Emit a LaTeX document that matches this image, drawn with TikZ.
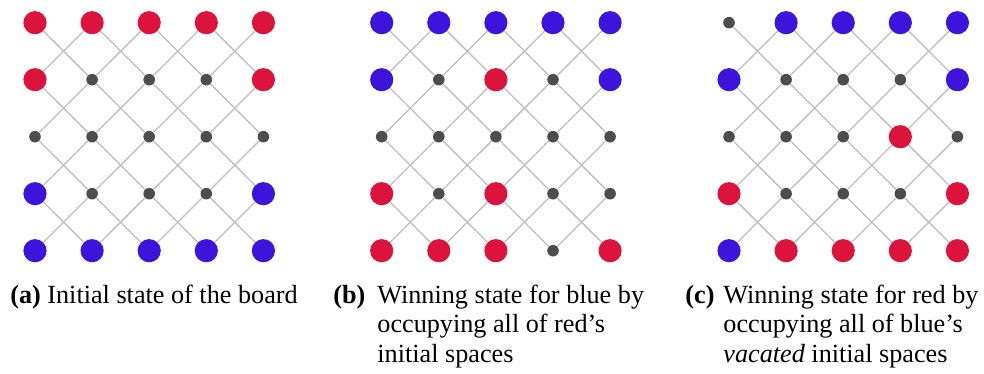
\documentclass[tikz,border=0pt]{standalone}
\usepackage{fontspec}
\setmainfont{Liberation Serif}
\usetikzlibrary{positioning}
\definecolor{BrdRed}{RGB}{220,20,60}
\definecolor{BrdBlue}{RGB}{60,20,220}
\definecolor{BrdDot}{RGB}{77,77,77}
\definecolor{BrdLine}{RGB}{190,190,190}
\tikzset{
  brd/r/.style={circle, fill=BrdRed, inner sep=0pt, minimum size=11.6pt},
  brd/b/.style={circle, fill=BrdBlue, inner sep=0pt, minimum size=11.6pt},
  brd/e/.style={circle, fill=BrdDot, inner sep=0pt, minimum size=5.8pt},
  brd/edge/.style={draw=BrdLine, line width=0.65pt},
  brd/tag/.style={font=\fontsize{13.1}{14.75}\selectfont\bfseries, inner sep=0pt, anchor=base west},
  brd/caption/.style={font=\fontsize{13.1}{14.75}\selectfont, align=left, inner sep=0pt, anchor=base west}
}
% one 5x5 board: name, x of first column, rows top to bottom
\newcommand{\drawboard}[3]{%
  \foreach \row [count=\j] in {#3} {
    \foreach \s [count=\i] in \row {
      \node[brd/\s] (#1-\i-\j) at ({#2+(\i-1)*57.1},{22.7+(\j-1)*57}) {};
    }
  }
  \foreach \i in {1,...,4} {
    \foreach \j in {1,...,4} {
      \pgfmathtruncatemacro{\ii}{\i+1}
      \pgfmathtruncatemacro{\jj}{\j+1}
      \draw[brd/edge] (#1-\i-\j) -- (#1-\ii-\jj);
      \draw[brd/edge] (#1-\ii-\j) -- (#1-\i-\jj);
    }
  }
}
\begin{document}
\begin{tikzpicture}[x=0.5pt,y=-0.5pt]
  \useasboundingbox (0,0) rectangle (984,374);
  % boards
  \drawboard{a}{35}{{r,r,r,r,r},{r,e,e,e,r},{e,e,e,e,e},{b,e,e,e,b},{b,b,b,b,b}}
  \drawboard{b}{381.7}{{b,b,b,b,b},{b,e,r,e,b},{e,e,e,e,e},{r,e,r,e,e},{r,r,r,e,r}}
  \drawboard{c}{729}{{e,b,b,b,b},{b,e,e,e,b},{e,e,e,r,e},{r,e,e,e,r},{b,r,r,r,r}}
  % captions (multi-line ones sit on their last baseline)
  \node[brd/tag] (tag-a) at (10,303) {(a)};
  \node[brd/caption] (cap-a) at (47,303) {Initial state of the board};
  \node[brd/tag] (tag-b) at (333,303) {(b)};
  \node[brd/caption] (cap-b) at (377,362) {Winning state for blue by\\occupying all of red's\\initial spaces};
  \node[brd/tag] (tag-c) at (685,303) {(c)};
  \node[brd/caption] (cap-c) at (723,362) {Winning state for red by\\occupying all of blue's\\\textit{vacated} initial spaces};
\end{tikzpicture}
\end{document}
